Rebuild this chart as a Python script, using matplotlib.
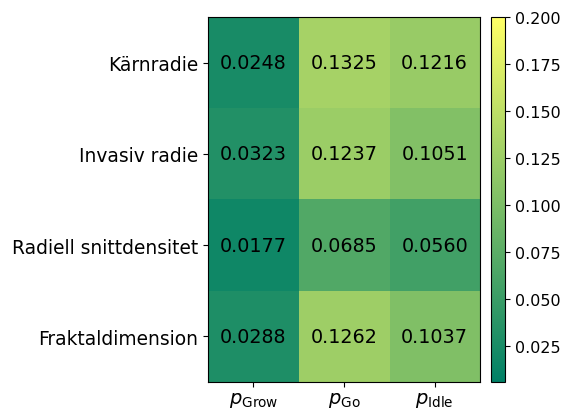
import numpy as np
import matplotlib
matplotlib.use('agg')
import matplotlib.pyplot as plt

rows = ['Kärnradie', 'Invasiv radie', 'Radiell snittdensitet', 'Fraktaldimension']
cols = [r'$p_{\mathrm{Grow}}$', r'$p_{\mathrm{Go}}$', r'$p_{\mathrm{Idle}}$']
p_grow = [0.0248, 0.0323, 0.0177, 0.0288]
p_go = [0.1325, 0.1237, 0.0685, 0.1262]
p_idle = [0.1216, 0.1051, 0.0560, 0.1037]

vals = np.array([p_grow, p_go, p_idle]).T

fig = plt.figure(figsize=(5.61, 4.10), dpi=100)
ax = fig.add_axes([208/561, 1 - 383/410, 272/561, 365/410])
cax = fig.add_axes([491/561, 1 - 383/410, 14/561, 365/410])

im = ax.imshow(vals, cmap='summer', vmin=0.006, vmax=0.2, aspect='auto')
for i in range(len(rows)):
	for j in range(len(cols)):
		ax.text(j, i, '%.4f' % vals[i, j], ha='center', va='center', fontsize=13.8)

ax.set_xticks(range(len(cols)))
ax.set_xticklabels(cols, fontsize=14)
ax.tick_params(axis='x', pad=2)
ax.set_yticks(range(len(rows)))
ax.set_yticklabels(rows, fontsize=13.4)

cb = fig.colorbar(im, cax=cax)
cb.set_ticks([0.025, 0.05, 0.075, 0.1, 0.125, 0.15, 0.175, 0.2])
cb.ax.tick_params(labelsize=11.5)

fig.savefig('out.png', dpi=100)
